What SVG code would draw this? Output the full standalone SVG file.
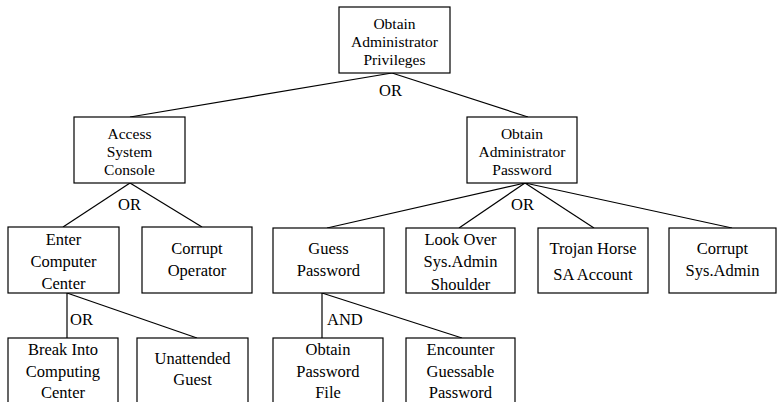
<svg xmlns="http://www.w3.org/2000/svg" width="777" height="402" viewBox="0 0 777 402">
  <style>
    .box { fill: #ffffff; stroke: #000000; stroke-width: 1.2; }
    .edge { fill: none; stroke: #000000; stroke-width: 1.2; }
    .lbl { font-family: Liberation Serif, Times New Roman, Tinos, DejaVu Serif, serif; font-size: 16.5px; fill: #000000; text-anchor: middle; }
    .tight { font-size: 15.5px; }
    .gate { text-anchor: start; }
  </style>
  <rect x="0" y="0" width="777" height="402" fill="#ffffff"/>

  <!-- connectors and gate labels -->
  <g id="connectors">
    <line class="edge" x1="392" y1="73" x2="130" y2="117"/>
    <line class="edge" x1="392" y1="73" x2="528" y2="117"/>
    <line class="edge" x1="130" y1="183" x2="63" y2="227"/>
    <line class="edge" x1="130" y1="183" x2="202" y2="227"/>
    <line class="edge" x1="525" y1="183" x2="327" y2="228"/>
    <line class="edge" x1="525" y1="183" x2="459" y2="228"/>
    <line class="edge" x1="525" y1="183" x2="594" y2="228"/>
    <line class="edge" x1="525" y1="183" x2="732" y2="228"/>
    <line class="edge" x1="67" y1="293" x2="67" y2="338"/>
    <line class="edge" x1="67" y1="293" x2="197" y2="338"/>
    <line class="edge" x1="322" y1="293" x2="322" y2="338"/>
    <line class="edge" x1="322" y1="293" x2="462" y2="338"/>
    <text class="lbl gate" x="379" y="96">OR</text>
    <text class="lbl gate" x="118" y="210">OR</text>
    <text class="lbl gate" x="511" y="210">OR</text>
    <text class="lbl gate" x="70" y="325">OR</text>
    <text class="lbl gate" x="327" y="325">AND</text>
  </g>

  <g id="obtain-admin-privileges">
    <rect class="box" x="339" y="7" width="111" height="66"/>
    <text class="lbl tight" x="394.5" y="28.5">Obtain</text>
    <text class="lbl tight" x="394.5" y="46.5">Administrator</text>
    <text class="lbl tight" x="394.5" y="64.5">Privileges</text>
  </g>

  <g id="access-system-console">
    <rect class="box" x="74" y="117" width="111" height="66"/>
    <text class="lbl tight" x="129.5" y="138.5">Access</text>
    <text class="lbl tight" x="129.5" y="156.5">System</text>
    <text class="lbl tight" x="129.5" y="174.5">Console</text>
  </g>

  <g id="obtain-admin-password">
    <rect class="box" x="467" y="117" width="110" height="66"/>
    <text class="lbl tight" x="522" y="138.5">Obtain</text>
    <text class="lbl tight" x="522" y="156.5">Administrator</text>
    <text class="lbl tight" x="522" y="174.5">Password</text>
  </g>

  <g id="enter-computer-center">
    <rect class="box" x="8" y="227" width="111" height="66"/>
    <text class="lbl" x="63.5" y="245">Enter</text>
    <text class="lbl" x="63.5" y="267">Computer</text>
    <text class="lbl" x="63.5" y="289">Center</text>
  </g>

  <g id="corrupt-operator">
    <rect class="box" x="142" y="227" width="110" height="66"/>
    <text class="lbl" x="197" y="254">Corrupt</text>
    <text class="lbl" x="197" y="276">Operator</text>
  </g>

  <g id="guess-password">
    <rect class="box" x="273" y="228" width="111" height="65"/>
    <text class="lbl" x="328.5" y="254">Guess</text>
    <text class="lbl" x="328.5" y="276">Password</text>
  </g>

  <g id="look-over-shoulder">
    <rect class="box" x="406" y="228" width="109" height="65"/>
    <text class="lbl" x="460.5" y="245">Look Over</text>
    <text class="lbl" x="460.5" y="267">Sys.Admin</text>
    <text class="lbl" x="460.5" y="290">Shoulder</text>
  </g>

  <g id="trojan-horse">
    <rect class="box" x="538" y="228" width="110" height="65"/>
    <text class="lbl" x="593" y="254">Trojan Horse</text>
    <text class="lbl" x="593" y="280">SA Account</text>
  </g>

  <g id="corrupt-sysadmin">
    <rect class="box" x="669" y="228" width="107" height="65"/>
    <text class="lbl" x="722.5" y="254">Corrupt</text>
    <text class="lbl" x="722.5" y="276">Sys.Admin</text>
  </g>

  <g id="break-into-center">
    <rect class="box" x="8" y="338" width="110" height="80"/>
    <text class="lbl" x="63" y="355">Break Into</text>
    <text class="lbl" x="63" y="377">Computing</text>
    <text class="lbl" x="63" y="398">Center</text>
  </g>

  <g id="unattended-guest">
    <rect class="box" x="137" y="338" width="111" height="80"/>
    <text class="lbl" x="192.5" y="364">Unattended</text>
    <text class="lbl" x="192.5" y="385">Guest</text>
  </g>

  <g id="obtain-password-file">
    <rect class="box" x="273" y="338" width="110" height="80"/>
    <text class="lbl" x="328" y="355">Obtain</text>
    <text class="lbl" x="328" y="377">Password</text>
    <text class="lbl" x="328" y="398">File</text>
  </g>

  <g id="guessable-password">
    <rect class="box" x="406" y="338" width="109" height="80"/>
    <text class="lbl" x="460.5" y="355">Encounter</text>
    <text class="lbl" x="460.5" y="377">Guessable</text>
    <text class="lbl" x="460.5" y="398">Password</text>
  </g>
</svg>
